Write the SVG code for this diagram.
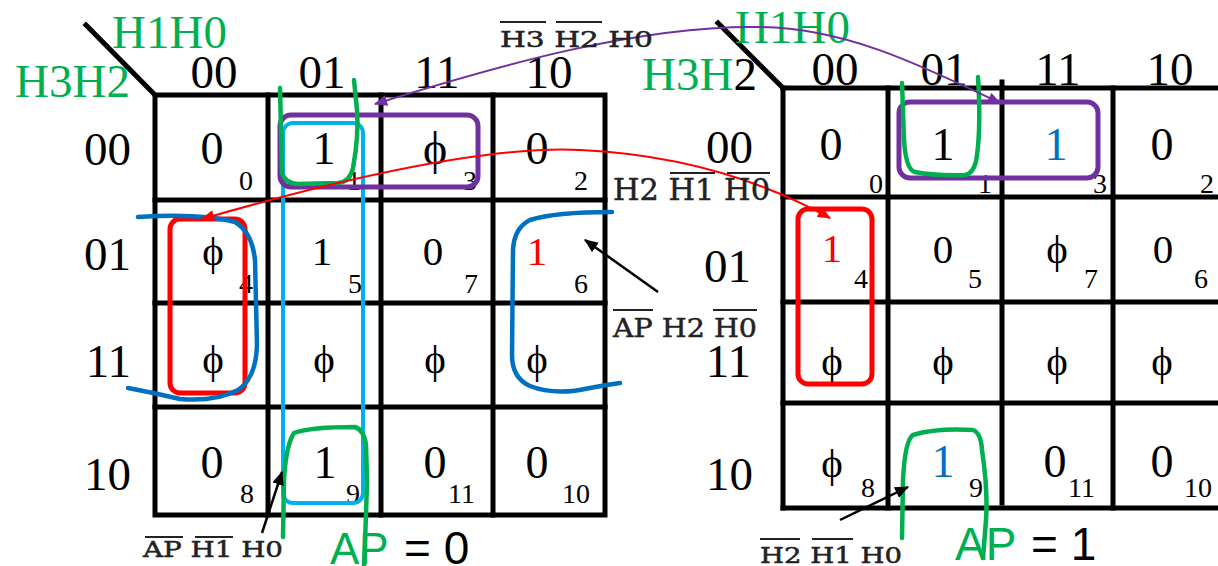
<svg xmlns="http://www.w3.org/2000/svg" width="1218" height="566" viewBox="0 0 1218 566">
  <style>
    .grid { fill: none; stroke: #000; stroke-width: 5; stroke-linecap: square; }
    .serif { font-family: "Liberation Serif", "Times New Roman", serif; fill: #000; }
    .hdr { font-size: 47px; }
    .col { text-anchor: middle; }
    .row { text-anchor: end; }
    .var { fill: #00b050; }
    .val { font-size: 46px; text-anchor: middle; }
    .val2 { font-size: 41px; text-anchor: middle; }
    .sub { font-size: 28px; text-anchor: end; }
    .red { fill: #ff0000; }
    .blue { fill: #0070c0; }
    .eq { font-family: "DejaVu Serif", "Liberation Serif", serif; fill: #222; stroke: #222; stroke-width: 0.5; }
    .bar { stroke: #222; stroke-width: 2.2; }
    .ap { font-family: "Liberation Sans", Arial, sans-serif; }
    .loop { fill: none; stroke-linecap: round; stroke-linejoin: round; }
    .green { stroke: #00b050; stroke-width: 4.5; }
    .lblue { stroke: #0070c0; stroke-width: 4.5; }
    .cyan { stroke: #00b0f0; stroke-width: 4; }
    .purple { stroke: #7030a0; stroke-width: 5; }
    .redbox { stroke: #ff0000; stroke-width: 5; }
    .conn { fill: none; }
  </style>
  <defs>
    <marker id="head-black" viewBox="0 0 12 10" refX="11" refY="5" markerWidth="14" markerHeight="12" markerUnits="userSpaceOnUse" orient="auto">
      <path d="M0,0 L12,5 L0,10 Z" fill="#000"/>
    </marker>
    <marker id="head-red" viewBox="0 0 12 10" refX="11" refY="5" markerWidth="14" markerHeight="11" markerUnits="userSpaceOnUse" orient="auto-start-reverse">
      <path d="M0,0 L12,5 L0,10 Z" fill="#ff0000"/>
    </marker>
    <marker id="head-purple" viewBox="0 0 12 10" refX="11" refY="5" markerWidth="14" markerHeight="11" markerUnits="userSpaceOnUse" orient="auto-start-reverse">
      <path d="M0,0 L12,5 L0,10 Z" fill="#7030a0"/>
    </marker>
  </defs>

  <rect width="1218" height="566" fill="#fff"/>

  <!-- Karnaugh map for AP = 0 -->
  <g id="map-ap0">
    <line class="grid" x1="86" y1="25" x2="155" y2="95"/>
    <rect class="grid" x="155" y="95" width="450" height="420"/>
    <line class="grid" x1="268" y1="95" x2="268" y2="515"/>
    <line class="grid" x1="381" y1="95" x2="381" y2="515"/>
    <line class="grid" x1="493" y1="95" x2="493" y2="515"/>
    <line class="grid" x1="155" y1="200" x2="605" y2="200"/>
    <line class="grid" x1="155" y1="303" x2="605" y2="303"/>
    <line class="grid" x1="155" y1="407" x2="605" y2="407"/>
    <text class="serif hdr var" x="112" y="48">H1H0</text>
    <text class="serif hdr var" x="15" y="97">H3H2</text>
    <text class="serif hdr col" x="214" y="88">00</text>
    <text class="serif hdr col" x="322" y="88">01</text>
    <text class="serif hdr col" x="437" y="88">11</text>
    <text class="serif hdr col" x="549" y="88">10</text>
    <text class="serif hdr row" x="131" y="165">00</text>
    <text class="serif hdr row" x="131" y="270">01</text>
    <text class="serif hdr row" x="131" y="377">11</text>
    <text class="serif hdr row" x="131" y="490">10</text>
  </g>

  <g id="ap0-cells">
    <g id="a0-m0"><text class="serif val" x="212" y="164">0</text><text class="serif sub" x="253" y="190">0</text></g>
    <g id="a0-m1"><text class="serif val" x="324" y="164">1</text><text class="serif sub" x="361" y="190">1</text></g>
    <g id="a0-m3"><text class="serif val" x="435" y="164">ϕ</text><text class="serif sub" x="477" y="190">3</text></g>
    <g id="a0-m2"><text class="serif val" x="537" y="164">0</text><text class="serif sub" x="588" y="190">2</text></g>
    <g id="a0-m4"><text class="serif val2" x="213" y="265">ϕ</text><text class="serif sub" x="253" y="293">4</text></g>
    <g id="a0-m5"><text class="serif val2" x="322" y="265">1</text><text class="serif sub" x="362" y="293">5</text></g>
    <g id="a0-m7"><text class="serif val2" x="433" y="265">0</text><text class="serif sub" x="478" y="293">7</text></g>
    <g id="a0-m6"><text class="serif val2 red" x="537" y="265">1</text><text class="serif sub" x="588" y="293">6</text></g>
    <g id="a0-m12"><text class="serif val2" x="213" y="373">ϕ</text></g>
    <g id="a0-m13"><text class="serif val2" x="324" y="373">ϕ</text></g>
    <g id="a0-m15"><text class="serif val2" x="435" y="373">ϕ</text></g>
    <g id="a0-m14"><text class="serif val2" x="537" y="373">ϕ</text></g>
    <g id="a0-m8"><text class="serif val" x="212" y="478">0</text><text class="serif sub" x="254" y="503">8</text></g>
    <g id="a0-m9"><text class="serif val" x="325" y="478">1</text><text class="serif sub" x="360" y="503">9</text></g>
    <g id="a0-m11"><text class="serif val" x="435" y="478">0</text><text class="serif sub" x="475" y="503">11</text></g>
    <g id="a0-m10"><text class="serif val" x="537" y="478">0</text><text class="serif sub" x="590" y="503">10</text></g>
  </g>

  <!-- Karnaugh map for AP = 1 -->
  <g id="map-ap1">
    <line class="grid" x1="718" y1="23" x2="783" y2="88"/>
    <line class="grid" x1="783" y1="88" x2="1220" y2="88"/>
    <line class="grid" x1="783" y1="88" x2="783" y2="508"/>
    <line class="grid" x1="783" y1="508" x2="1220" y2="508"/>
    <line class="grid" x1="888" y1="88" x2="888" y2="508"/>
    <line class="grid" x1="1002" y1="82" x2="1002" y2="503"/>
    <line class="grid" x1="1113" y1="88" x2="1113" y2="508"/>
    <line class="grid" x1="783" y1="197" x2="1220" y2="197"/>
    <line class="grid" x1="783" y1="302" x2="1220" y2="302"/>
    <line class="grid" x1="783" y1="403" x2="1220" y2="403"/>
    <text class="serif hdr var" x="735" y="43">H1H0</text>
    <text class="serif hdr" x="642" y="90"><tspan class="var">H3H</tspan>2</text>
    <text class="serif hdr col" x="835" y="85">00</text>
    <text class="serif hdr col" x="944" y="85">01</text>
    <text class="serif hdr col" x="1058" y="85">11</text>
    <text class="serif hdr col" x="1170" y="85">10</text>
    <text class="serif hdr row" x="753" y="163">00</text>
    <text class="serif hdr row" x="751" y="282">01</text>
    <text class="serif hdr row" x="751" y="377">11</text>
    <text class="serif hdr row" x="753" y="490">10</text>
  </g>

  <g id="ap1-cells">
    <g id="a1-m0"><text class="serif val" x="831" y="160">0</text><text class="serif sub" x="883" y="193">0</text></g>
    <g id="a1-m1"><text class="serif val" x="943" y="160">1</text><text class="serif sub" x="992" y="193">1</text></g>
    <g id="a1-m3"><text class="serif val blue" x="1056" y="160">1</text><text class="serif sub" x="1107" y="193">3</text></g>
    <g id="a1-m2"><text class="serif val" x="1162" y="160">0</text><text class="serif sub" x="1214" y="193">2</text></g>
    <g id="a1-m4"><text class="serif val2 red" x="832" y="262">1</text><text class="serif sub" x="868" y="288">4</text></g>
    <g id="a1-m5"><text class="serif val2" x="943" y="263">0</text><text class="serif sub" x="982" y="288">5</text></g>
    <g id="a1-m7"><text class="serif val2" x="1057" y="263">ϕ</text><text class="serif sub" x="1098" y="288">7</text></g>
    <g id="a1-m6"><text class="serif val2" x="1163" y="263">0</text><text class="serif sub" x="1208" y="288">6</text></g>
    <g id="a1-m12"><text class="serif val2" x="832" y="375">ϕ</text></g>
    <g id="a1-m13"><text class="serif val2" x="943" y="375">ϕ</text></g>
    <g id="a1-m15"><text class="serif val2" x="1057" y="375">ϕ</text></g>
    <g id="a1-m14"><text class="serif val2" x="1162" y="375">ϕ</text></g>
    <g id="a1-m8"><text class="serif val2" x="832" y="477">ϕ</text><text class="serif sub" x="875" y="497">8</text></g>
    <g id="a1-m9"><text class="serif val blue" x="943" y="477">1</text><text class="serif sub" x="983" y="497">9</text></g>
    <g id="a1-m11"><text class="serif val" x="1055" y="477">0</text><text class="serif sub" x="1095" y="497">11</text></g>
    <g id="a1-m10"><text class="serif val" x="1162" y="477">0</text><text class="serif sub" x="1212" y="497">10</text></g>
  </g>

  <!-- groupings drawn over the maps -->
  <g id="groups">
    <rect class="loop cyan" x="283" y="123" width="80" height="380" rx="10"/>
    <rect class="loop purple" x="280" y="115" width="198" height="72" rx="11"/>
    <rect class="loop redbox" x="170" y="219" width="75" height="174" rx="10"/>
    <path class="loop lblue" d="M138,217 Q200,213 235,222 Q252,232 255,260 L257,345 Q256,378 238,390 Q215,402 180,399 Q155,393 128,388"/>
    <path class="loop lblue" d="M612,212 Q555,212 530,220 Q514,228 513,250 L512,355 Q512,378 530,386 Q555,396 590,388 Q605,385 620,383"/>
    <path class="loop green" d="M280,88 L282,172 Q284,183 298,184 L338,183 Q350,182 353,168 Q359,135 357,110 L354,80"/>
    <path class="loop green" d="M283,537 L284,480 Q286,445 294,433 Q310,427 355,427 Q364,430 366,445 L367,480 Q366,520 364,566"/>
    <rect class="loop purple" x="899" y="102" width="199" height="76" rx="11"/>
    <rect class="loop redbox" x="798" y="209" width="74" height="175" rx="10"/>
    <path class="loop green" d="M902,83 L904,140 Q906,170 915,172 Q935,176 965,175 Q975,173 977,155 Q981,125 978,77"/>
    <path class="loop green" d="M902,538 L903,480 Q905,440 913,435 Q935,428 973,430 Q981,433 982,450 Q988,490 986,520 L983,558"/>
  </g>

  <!-- connectors -->
  <g id="connectors">
    <path class="conn" d="M375,104 C500,65 640,25 760,27 C850,28 930,70 1000,103" stroke="#7030a0" stroke-width="2" marker-start="url(#head-purple)" marker-end="url(#head-purple)"/>
    <path class="conn" d="M202,219 C320,185 480,145 580,150 C690,155 770,185 830,218" stroke="#ff0000" stroke-width="2" marker-start="url(#head-red)" marker-end="url(#head-red)"/>
    <line x1="658" y1="292" x2="585" y2="240" stroke="#000" stroke-width="2.5" marker-end="url(#head-black)"/>
    <line x1="262" y1="533" x2="282" y2="472" stroke="#000" stroke-width="2.5" marker-end="url(#head-black)"/>
    <line x1="840" y1="520" x2="908" y2="487" stroke="#000" stroke-width="2.5" marker-end="url(#head-black)"/>
  </g>

  <!-- product-term labels -->
  <g id="term-h3h2h0">
    <text class="eq" x="500" y="47" font-size="22" textLength="153" lengthAdjust="spacingAndGlyphs">H3 H2 H0</text>
    <line class="bar" x1="500" y1="22" x2="546" y2="22"/>
    <line class="bar" x1="556" y1="22" x2="602" y2="22"/>
  </g>
  <g id="term-h2h1h0">
    <text class="eq" x="613" y="200" font-size="30" textLength="157" lengthAdjust="spacingAndGlyphs">H2 H1 H0</text>
    <line class="bar" x1="670" y1="173" x2="715" y2="173"/>
    <line class="bar" x1="727" y1="173" x2="770" y2="173"/>
  </g>
  <g id="term-aph2h0">
    <text class="eq" x="613" y="337" font-size="26" textLength="144" lengthAdjust="spacingAndGlyphs">AP H2 H0</text>
    <line class="bar" x1="613" y1="310" x2="653" y2="310"/>
    <line class="bar" x1="713" y1="310" x2="757" y2="310"/>
  </g>
  <g id="term-aph1h0">
    <text class="eq" x="143" y="557" font-size="22" textLength="140" lengthAdjust="spacingAndGlyphs">AP H1 H0</text>
    <line class="bar" x1="145" y1="537" x2="183" y2="537"/>
    <line class="bar" x1="195" y1="537" x2="233" y2="537"/>
  </g>
  <g id="term-h2h1h0-b">
    <text class="eq" x="760" y="563" font-size="22" textLength="142" lengthAdjust="spacingAndGlyphs">H2 H1 H0</text>
    <line class="bar" x1="760" y1="539" x2="800" y2="539"/>
    <line class="bar" x1="812" y1="539" x2="853" y2="539"/>
  </g>

  <!-- map captions -->
  <g id="caption-ap0">
    <text class="ap" x="330" y="564" font-size="44"><tspan fill="#00b050">AP</tspan><tspan x="404" fill="#000" font-size="46">= 0</tspan></text>
  </g>
  <g id="caption-ap1">
    <text class="ap" x="955" y="560" font-size="46"><tspan fill="#00b050">AP</tspan><tspan x="1031" fill="#000">= 1</tspan></text>
  </g>
</svg>
